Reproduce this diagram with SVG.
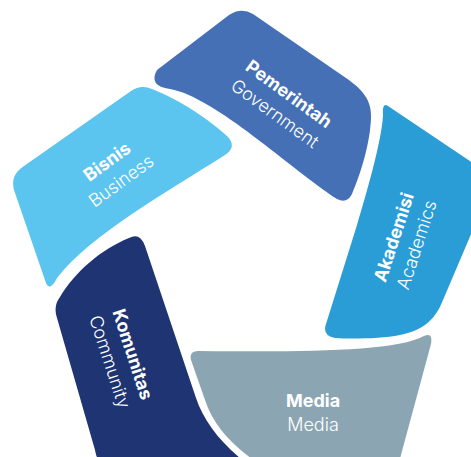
<svg xmlns="http://www.w3.org/2000/svg" width="471" height="457" viewBox="0 0 471 457">
  <style>
    .t { font-family: Inter, "Liberation Sans", Arial, sans-serif; font-size: 18px; fill: #ffffff; text-anchor: middle; }
    .b { font-weight: 700; }
    .r { font-weight: 300; }
  </style>
  <rect x="0" y="0" width="471" height="457" fill="#ffffff"/>
  <g id="government">
    <path fill="#4570B5" d="M 157,70 L 229,15 Q 241,7 253,14 L 346,78 C 362,89 372,100 371,118 C 370,145 360,175 352,194 Q 347,204 337,199 C 292,170 215,97 170,89 Q 148,86 157,70 Z"/>
    <g transform="translate(282,103.5) rotate(36)">
      <text class="t b" x="0" y="-5.5">Pemerintah</text>
      <text class="t r" x="0" y="18.5">Government</text>
    </g>
  </g>
  <g id="akademisi">
    <path fill="#2A9DD6" d="M 388,106 L 495,178 L 443,300 C 436,318 425,330 400,335 C 380,339 350,339 335,338 Q 322,336 326,324 L 357,225 C 366,195 382,140 383,115 Q 382,102 388,106 Z"/>
    <g transform="translate(405,241) rotate(-72)">
      <text class="t b" x="0" y="-5.5">Akademisi</text>
      <text class="t r" x="0" y="18.5">Academics</text>
    </g>
  </g>
  <g id="media">
    <path fill="#8BA6B2" d="M 198,351 C 300,352 395,352 424,336 Q 433,332 431,344 L 398,466 L 262,466 C 232,446 213,425 205,400 L 191,360 Q 189,351 198,351 Z"/>
    <g transform="translate(313,412.8)">
      <text class="t b" x="0" y="-5.5">Media</text>
      <text class="t r" x="0" y="18.5">Media</text>
    </g>
  </g>
  <g id="komunitas">
    <path fill="#1E3473" d="M 129,238 Q 140,232 145,246 L 196,398 C 204,422 222,445 250,466 L 104,466 Q 97,462 95,450 L 57,318 Q 53,306 60,297 C 75,272 100,250 129,238 Z"/>
    <g transform="translate(121.5,358) rotate(72)">
      <text class="t b" x="0" y="-5.5">Komunitas</text>
      <text class="t r" x="0" y="18.5">Community</text>
    </g>
  </g>
  <g id="bisnis">
    <path fill="#5BC4EF" d="M 131,91 Q 141,84 152,89 C 180,100 210,120 228,137 Q 237,147 225,155 C 170,190 90,235 57,278 Q 50,292 46,283 L 14,190 Q 10,175 24,166 Z"/>
    <g transform="translate(114,171) rotate(-36)">
      <text class="t b" x="0" y="-5.5">Bisnis</text>
      <text class="t r" x="0" y="18.5">Business</text>
    </g>
  </g>
  <g id="connectors"></g>
</svg>
